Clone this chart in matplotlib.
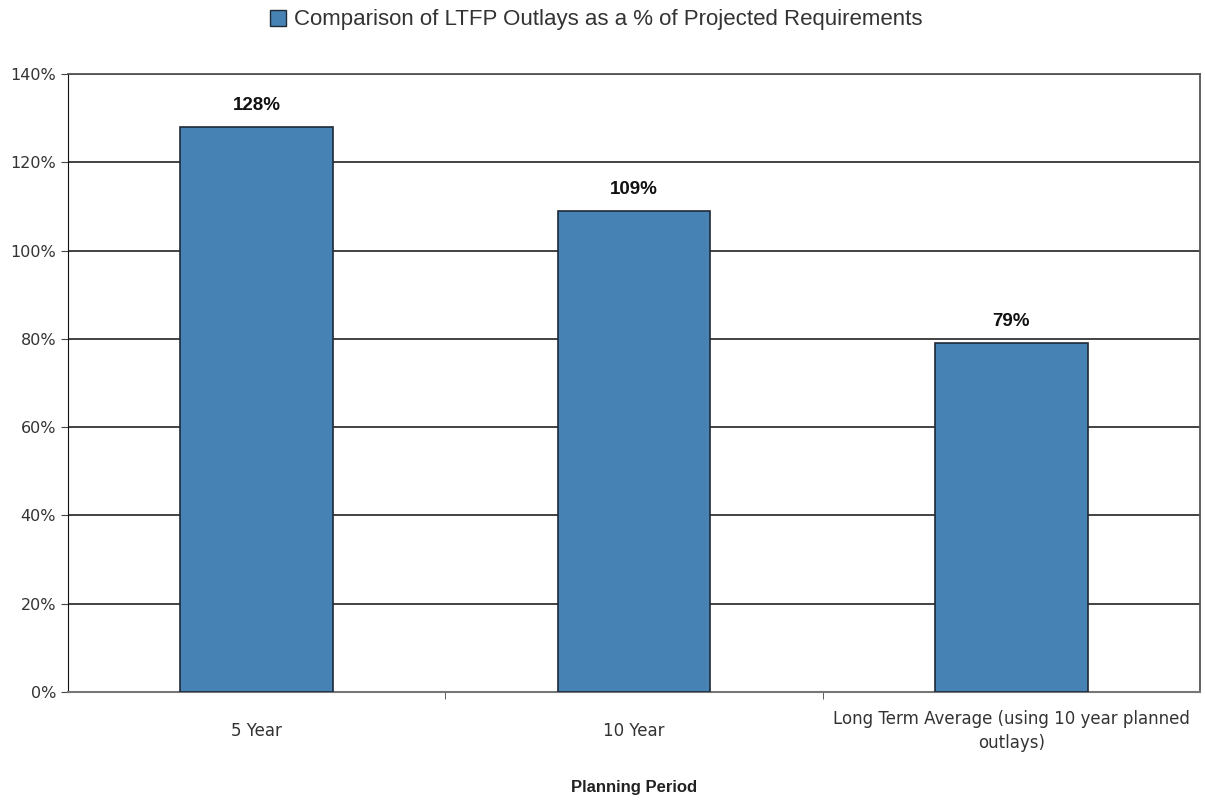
import matplotlib
matplotlib.use("Agg")
import matplotlib.pyplot as plt
from matplotlib.ticker import FuncFormatter, FixedLocator
from matplotlib.patches import Patch

categories = ["5 Year", "10 Year", "Long Term Average (using 10 year planned\noutlays)"]
values = [128, 109, 79]
series_name = "Comparison of LTFP Outlays as a % of Projected Requirements"
y_ticks = [0, 20, 40, 60, 80, 100, 120, 140]

plt.rcParams["font.family"] = ["Liberation Sans", "DejaVu Sans"]

fig = plt.figure(figsize=(12.05, 8.0), dpi=100)
ax = fig.add_axes([0.0564, 0.135, 0.9395, 0.7725])

bar_color = "#4682b4"
x = list(range(len(categories)))
ax.bar(x, values, width=0.405, color=bar_color, edgecolor="#1f2a36", linewidth=1.2, zorder=3)

ax.set_xlim(-0.5, len(categories) - 0.5)
ax.set_ylim(0, 140)
ax.set_yticks(y_ticks)
ax.yaxis.set_major_formatter(FuncFormatter(lambda v, _: f"{int(v)}%"))
ax.yaxis.grid(True, color="#222222", linewidth=1.2, zorder=0)
ax.set_axisbelow(True)

tick_font = ["DejaVu Sans"]
ax.set_xticks(x)
ax.set_xticklabels(categories, fontsize=12, color="#333333", va="center",
                   linespacing=1.45, family=tick_font)
ax.tick_params(axis="x", which="major", length=0, pad=28)
ax.xaxis.set_minor_locator(FixedLocator([0.5, 1.5]))
ax.tick_params(axis="x", which="minor", length=5, color="#444444")
ax.tick_params(axis="y", length=5, labelsize=11.5, labelcolor="#333333", color="#444444")
for lbl in ax.get_yticklabels():
    lbl.set_family(tick_font)

for side in ["top", "right"]:
    ax.spines[side].set_color("#555555")
    ax.spines[side].set_linewidth(1.3)
ax.spines["left"].set_color("#111111")
ax.spines["bottom"].set_color("#777777")
ax.spines["bottom"].set_linewidth(1.5)

for xi, v in zip(x, values):
    ax.text(xi, v + 3, f"{v}%", ha="center", va="bottom", fontsize=13.5,
            fontweight="bold", color="#111111")

fig.text(0.526, 0.016, "Planning Period", ha="center", va="center", fontsize=12,
         fontweight="bold", color="#222222")

handle = Patch(facecolor=bar_color, edgecolor="#1f2a36", linewidth=1.0)
fig.legend([handle], [series_name], loc="center", bbox_to_anchor=(0.495, 0.975),
           frameon=False, fontsize=16, handlelength=0.7, handleheight=0.7,
           handletextpad=0.4, labelcolor="#333333")

fig.savefig("out.png", dpi=100, facecolor="white")
